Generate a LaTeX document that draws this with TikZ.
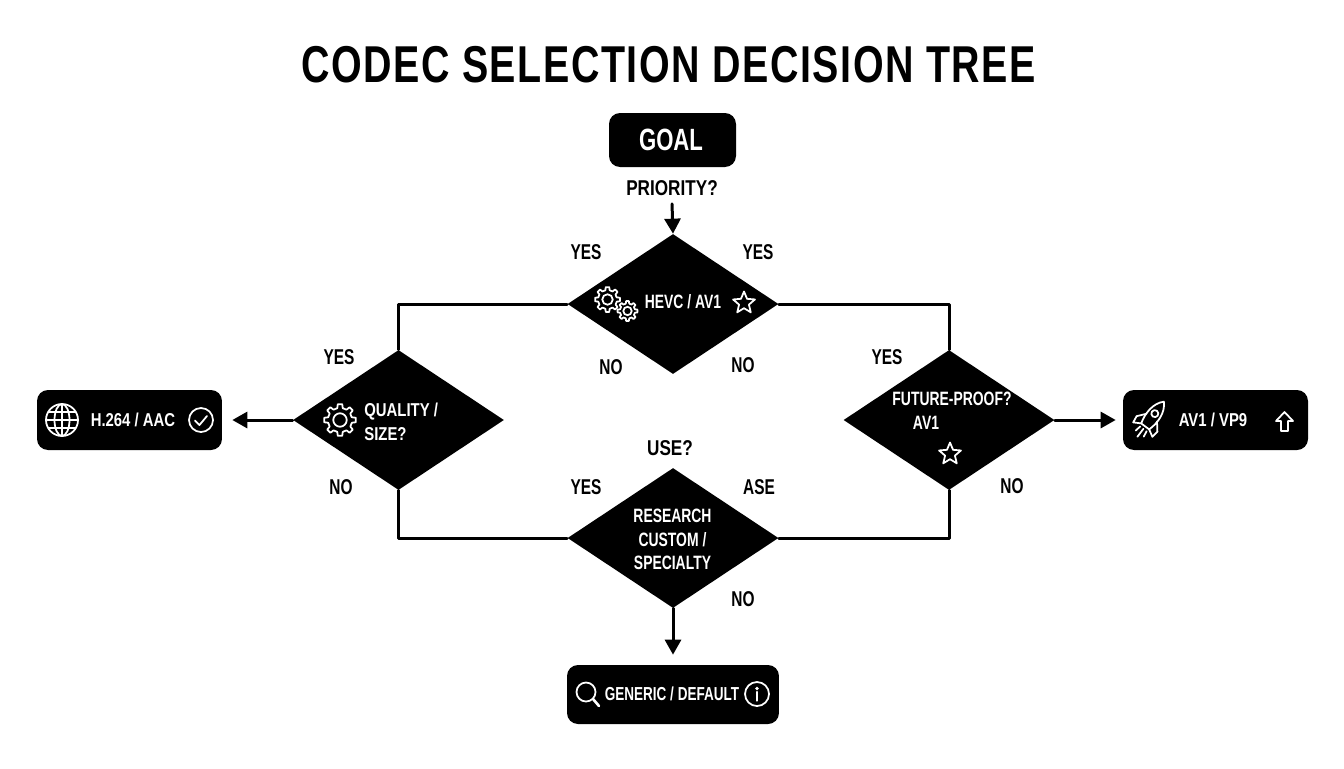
\documentclass[tikz,border=0pt]{standalone}
\usepackage{fontspec}
\setmainfont{Liberation Sans}[FakeStretch=0.8]
\newfontfamily\narrowfont{Liberation Sans}[FakeStretch=0.72]
\newfontfamily\titlefont{Liberation Sans}[FakeStretch=0.76,LetterSpace=3]
\usetikzlibrary{shapes.geometric,arrows.meta}
\tikzset{
	dia/.style={diamond,fill=black,draw=none,inner sep=0pt,minimum width=4.22cm,minimum height=2.8cm},
	blackbox/.style={fill=black,rounded corners=0.22cm,inner sep=0pt},
	lbl/.style={font=\fontsize{12.2}{14}\selectfont\narrowfont\bfseries,inner sep=0pt},
	boxtxt/.style={text=white,font=\fontsize{10.6}{13.4}\selectfont\bfseries,inner sep=0pt,align=center},
	narrowtxt/.style={boxtxt,font=\fontsize{11}{13.4}\selectfont\narrowfont\bfseries},
	conn/.style={line width=1.7pt,line cap=round,line join=round},
	ico/.style={draw=white,line width=1pt,line join=round,line cap=round},
	pics/gear/.style={code={
		\draw[ico] (-22:.74) \foreach \a in {0,45,...,315} {-- (\a-13:.76) -- (\a-8:1) -- (\a+8:1) -- (\a+13:.76)} -- cycle;
		\draw[ico] (0,0) circle (.42);
	}},
	pics/star/.style={code={
		\draw[ico] (-90:1) -- (-126:.45) -- (-162:1) -- (-198:.45) -- (-234:1) -- (-270:.45) -- (-306:1) -- (-342:.45) -- (-18:1) -- (-54:.45) -- cycle;
	}},
}
\begin{document}
\begin{tikzpicture}[x=0.02cm,y=-0.02cm,>={Stealth[length=0.3cm,width=0.32cm,inset=0pt]}]
	\useasboundingbox (0,0) rectangle (1344,768);
	% title
	\node[inner sep=0pt,font=\fontsize{29.5}{32}\selectfont\titlefont\bfseries] (title) at (668.5,64.5) {CODEC SELECTION DECISION TREE};
	% boxes
	\node[blackbox,minimum width=2.54cm,minimum height=1.08cm] (goal) at (672.5,140) {};
	\node[blackbox,minimum width=3.7cm,minimum height=1.2cm] (hbox) at (129.5,420) {};
	\node[blackbox,minimum width=3.7cm,minimum height=1.2cm] (avbox) at (1215.5,420) {};
	\node[blackbox,minimum width=4.24cm,minimum height=1.18cm] (genbox) at (673,694.5) {};
	% diamonds
	\node[dia] (dtop) at (673,304) {};
	\node[dia] (dleft) at (398.5,420) {};
	\node[dia] (dright) at (949,420) {};
	\node[dia] (dbot) at (673,538) {};
	% connectors
	\node[lbl,font=\fontsize{12.2}{14}\selectfont\bfseries] (prio) at (672,188) {PRIORITY?};
	\draw[conn,->] (prio.south)++(0,8) -- (dtop.north);
	\draw[conn] (dtop.west) -| (dleft.north);
	\draw[conn] (dtop.east) -| (dright.north);
	\draw[conn] (dleft.south) |- (dbot.west);
	\draw[conn] (dright.south) |- (dbot.east);
	\draw[conn,->,shorten >=0.2cm] (dleft.west) -- (hbox.east);
	\draw[conn,->,shorten >=0.14cm] (dright.east) -- (avbox.west);
	\draw[conn,->,shorten >=0.2cm] (dbot.south) -- (genbox.north);
	% texts
	\node[boxtxt,font=\fontsize{17.5}{18}\selectfont\narrowfont\bfseries] (goaltxt) at (671,140) {GOAL};
	\node[boxtxt] (htxt) at (133,420) {H.264 / AAC};
	\node[boxtxt] (avtxt) at (1213,420) {AV1 / VP9};
	\node[narrowtxt,font=\fontsize{10.7}{13.4}\selectfont\narrowfont\bfseries] (gentxt) at (672,694) {GENERIC / DEFAULT};
	\node[narrowtxt] (toptxt) at (683,302) {HEVC / AV1};
	\node[boxtxt,align=left,anchor=west] (qtxt) at (364,422) {QUALITY /\\SIZE?};
	\node[narrowtxt] (ftxt) at (952,399) {FUTURE-PROOF?};
	\node[narrowtxt] (aonetxt) at (926,423) {AV1};
	\node[narrowtxt] (rtxt) at (672.5,539.5) {RESEARCH\\CUSTOM /\\SPECIALTY};
	% branch labels
	\node[lbl] (y1) at (586,252) {YES};
	\node[lbl] (y2) at (758,252) {YES};
	\node[lbl] (n1) at (611,367) {NO};
	\node[lbl] (n2) at (743,365) {NO};
	\node[lbl] (y3) at (339,357) {YES};
	\node[lbl] (n3) at (341,487) {NO};
	\node[lbl] (y4) at (887,357) {YES};
	\node[lbl] (n4) at (1012,486) {NO};
	\node[lbl,font=\fontsize{12.2}{14}\selectfont\bfseries] (use) at (670,448) {USE?};
	\node[lbl] (y5) at (586,487) {YES};
	\node[lbl] (ase) at (759,487) {ASE};
	\node[lbl] (n5) at (743,599) {NO};
	% icons
	\pic[scale=12.5] at (607.5,299.5) {gear};
	\pic[scale=10] at (627.5,311) {gear};
	\pic[scale=16] at (340,420) {gear};
	\pic[scale=11.5] at (744,303) {star};
	\pic[scale=11.5] at (950,454) {star};
	% globe
	\draw[ico] (62,420) circle (16);
	\draw[ico] (62,420) ellipse (7.5 and 16);
	\draw[ico] (62,404) -- (62,436) (46,420) -- (78,420) (48.5,412) -- (75.5,412) (48.5,428) -- (75.5,428);
	% check
	\draw[ico] (201,420) circle (12) (195,420.5) -- (199.5,425) -- (207,416);
	% rocket
	\begin{scope}[shift={(1150,420)},rotate=-37]
	\draw[ico] (0,-23) .. controls (8,-15) and (8,-2) .. (5,8) -- (-5,8) .. controls (-8,-2) and (-8,-15) .. (0,-23) -- cycle;
	\draw[ico] (0,-8) circle (3.5);
	\draw[ico] (-6.5,-3) -- (-13,5) -- (-12,12) -- (-5,8) (6.5,-3) -- (13,5) -- (12,12) -- (5,8);
	\draw[ico] (0,11) -- (0,21) (-4,11) -- (-5,17) (4,11) -- (5,17);
	\end{scope}
	% up arrow
	\draw[ico] (1284.5,412) -- (1293,421) -- (1288,421) -- (1288,431) -- (1281,431) -- (1281,421) -- (1276,421) -- cycle;
	% magnifier and info
	\draw[ico] (586,692) circle (9.5);
	\draw[ico,line width=1.5pt] (593,699) -- (599,706);
	\draw[ico] (757,694) circle (12);
	\fill[white] (757,688.5) circle (1.8);
	\draw[ico,line width=1.5pt] (757,692) -- (757,700.5);
\end{tikzpicture}
\end{document}
